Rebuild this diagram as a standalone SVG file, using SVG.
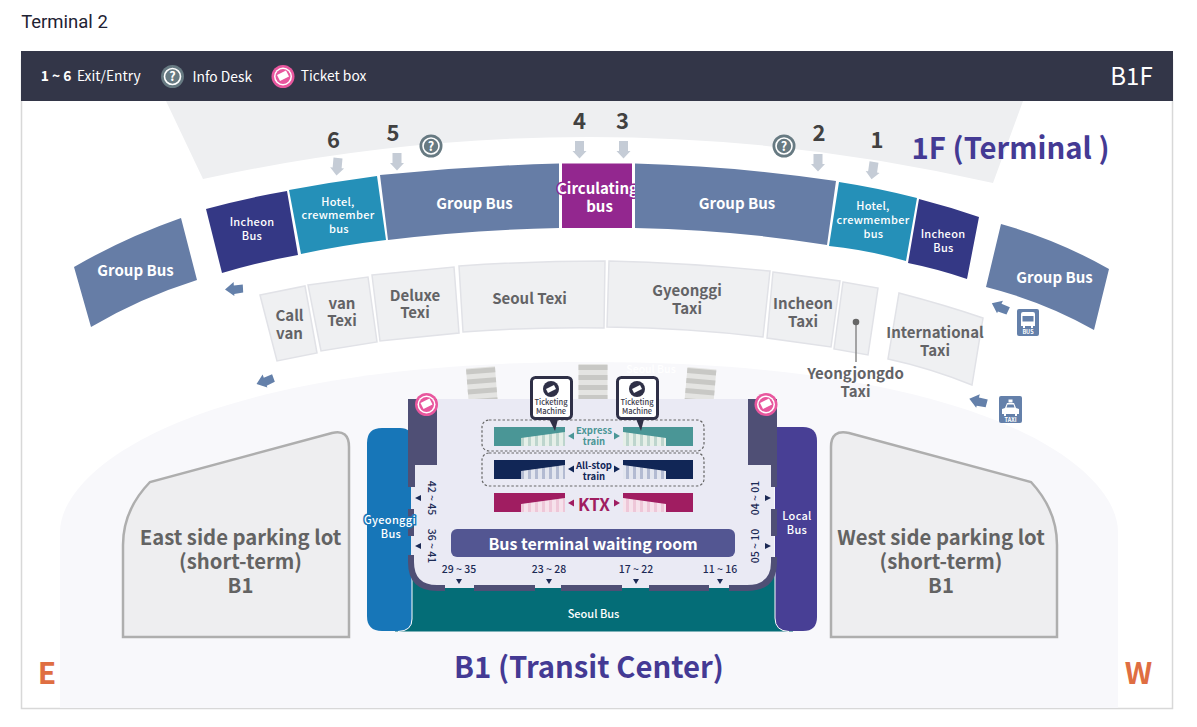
<svg xmlns="http://www.w3.org/2000/svg" width="1197" height="727" viewBox="0 0 1197 727">
<style>
text{font-family:"Noto Sans CJK KR","Noto Sans",sans-serif;text-anchor:middle}
.gb{fill:#667dA6}
.ib{fill:#343885}
.hb{fill:#2590b8}
.tx{fill:#eff0f2;stroke:#e1e2e7;stroke-width:1.5}
.w{fill:#fff;font-weight:500}
.s11{font-size:11px;letter-spacing:.3px}
.s14{font-size:15px;font-weight:700}
.t15{font-size:15px;font-weight:700;fill:#636366}
.num{font-size:22px;font-weight:700;fill:#414141}
.hd{font-size:29.300px;font-weight:700;fill:#443a94}
.park{font-size:20.300px;font-weight:700;fill:#636363}
.pk{fill:#eeeef0;stroke:#aeaeae;stroke-width:2.5}
.gate{font-size:10.5px;font-weight:500;fill:#1c2a55}
.navy{fill:#1c2a55}
.dk{fill:#4f4f75}
.dash{fill:none;stroke:#666;stroke-width:1.2;stroke-dasharray:2.5 2}
.leg{font-size:13.8px;fill:#fff}
.tm{font-size:7.5px;font-weight:500;fill:#3d3d4d}
.icl{font-size:5.5px;font-weight:700;fill:#fff}
.dstr{fill:none;stroke:#4f4f75;stroke-width:6}
</style>
<defs>
<polygon id="dn" points="-4.5,0 4.5,0 4.5,10 7,10 0,17.5 -7,10 -4.5,10" fill="#c5ccd6"/>
<polygon id="lf" points="-9,0 0,-7 0,-3.5 9,-4 9,4 0,5 0,7" fill="#6480aa"/>
<g id="info"><circle r="11.5" fill="#677a82"/><circle r="8" fill="none" stroke="#fff" stroke-width="1.6"/><text y="4.5" font-size="12.5" font-weight="700" fill="#fff">?</text></g>
<g id="tick"><circle r="11.5" fill="#e8579e"/><circle r="9" fill="#fff"/><circle r="7.5" fill="#e8579e"/><path d="M-6-1.5 3-6 6 0-3 4.5z" fill="#fff"/></g>
<g id="stairs"><rect width="29" height="36" fill="#e4e4e2"/><rect y="1" width="29" height="5" fill="#c8c8c5"/><rect y="11" width="29" height="5" fill="#c8c8c5"/><rect y="21" width="29" height="5" fill="#c8c8c5"/><rect y="31" width="29" height="5" fill="#c8c8c5"/></g>
<pattern id="pe" width="7" height="10" patternUnits="userSpaceOnUse" x="521"><rect width="7" height="10" fill="#bdd5cd"/><rect x="3" width="4" height="10" fill="#e6efe8"/></pattern>
<pattern id="pa" width="7" height="10" patternUnits="userSpaceOnUse" x="521"><rect width="7" height="10" fill="#b3bbd2"/><rect x="3" width="4" height="10" fill="#e3e6ef"/></pattern>
<pattern id="pk" width="7" height="10" patternUnits="userSpaceOnUse" x="521"><rect width="7" height="10" fill="#eec7d8"/><rect x="3" width="4" height="10" fill="#f6e2eb"/></pattern>
</defs>
<rect width="1197" height="727" fill="#fff"/>
<text x="64.500" y="28" style="font-family:Roboto,sans-serif;font-size:18.500px" fill="#1f2233">Terminal 2</text>
<rect x="21.500" y="60" width="1151" height="648.500" fill="#fff" stroke="#d8d8d8" stroke-width="1.500"/>
<path id="transit-bg" d="M60 708V532C60 470 190 362 590 362C990 362 1118 470 1118 532V708Z" fill="#f8f8fb"/>
<path id="terminal-bg" d="M166 101L203 179Q598 93 993 183L1023 101Z" fill="#eeeff1"/>
<g id="legend">
<rect x="21" y="51" width="1152" height="50" fill="#333648"/>
<text x="56" y="81" class="leg" font-weight="700">1 ~ 6</text>
<text x="108.800" y="81" class="leg">Exit/Entry</text>
<use href="#info" x="172.500" y="76.500"/>
<text x="222.300" y="82" class="leg">Info Desk</text>
<use href="#tick" x="283" y="76.500"/>
<text x="333.500" y="81" class="leg">Ticket box</text>
<text x="1131.500" y="85" font-size="24" fill="#fff">B1F</text>
</g>
<g id="bus-group-left"><path class="gb" d="M74 267Q124 238 181 218L197 280Q140 298 91 327Z"/><text class="w s14" x="135.500" y="276">Group Bus</text></g>
<g id="incheon-bus-left"><path class="ib" d="M206 209Q246 198 287 191L298 255Q258 262 222 273Z"/><text class="w s11" x="252" y="226">Incheon</text><text class="w s11" x="252" y="240">Bus</text></g>
<g id="hotel-left"><path class="hb" d="M289 190Q332 182 377 176L386 240Q343 245 301 254Z"/><text class="w s11" x="338" y="206">Hotel,</text><text class="w s11" x="338" y="219">crewmember</text><text class="w s11" x="339" y="233">bus</text></g>
<g id="group-bus-5"><path class="gb" d="M380 175Q470 166 559 163.500V228Q470 230 388 240Z"/><text class="w s14" x="474.500" y="209">Group Bus</text></g>
<g id="circulating-bus"><rect x="562" y="163.500" width="70" height="64.500" fill="#93278f"/><text class="w s14" x="597.500" y="194" style="paint-order:stroke;stroke:#93278f;stroke-width:3px">Circulating</text><text class="w s14" x="599.500" y="212">bus</text></g>
<g id="group-bus-2"><path class="gb" d="M635 163.500Q735 166 836 181L827 245Q735 230 635 228Z"/><text class="w s14" x="737" y="209">Group Bus</text></g>
<g id="hotel-right"><path class="hb" d="M839 182Q878 188 917 198L906 261Q868 250 829 246Z"/><text class="w s11" x="873" y="210">Hotel,</text><text class="w s11" x="873" y="224">crewmember</text><text class="w s11" x="873.500" y="238">bus</text></g>
<g id="incheon-bus-right"><path class="ib" d="M919 199Q950 207 979 217L967 279Q938 269 908 263Z"/><text class="w s11" x="943" y="238">Incheon</text><text class="w s11" x="943.500" y="252">Bus</text></g>
<g id="bus-group-right"><path class="gb" d="M1001 224Q1058 240 1109 269L1094 330Q1045 302 986 287Z"/><text class="w s14" x="1054.500" y="283">Group Bus</text></g>
<g id="call-van"><polygon class="tx" points="260,295 305,286 317,353 277,361"/><text class="t15" x="289.500" y="321">Call</text><text class="t15" x="289.500" y="339">van</text></g>
<g id="van-taxi"><polygon class="tx" points="308,285 368,277 377,342 321,351"/><text class="t15" x="342" y="309">van</text><text class="t15" x="342" y="326">Texi</text></g>
<g id="deluxe-taxi"><polygon class="tx" points="372,275 454,267 459,333 380,341"/><text class="t15" x="415" y="301">Deluxe</text><text class="t15" x="415" y="318">Texi</text></g>
<g id="seoul-taxi"><path class="tx" d="M459 266Q530 261 605 261L604 328Q530 327 463 332Z"/><text class="t15" x="529.500" y="304">Seoul Texi</text></g>
<g id="gyeonggi-taxi"><path class="tx" d="M609 261Q690 263 770 271L763 337Q690 328 607 327Z"/><text class="t15" x="687" y="296">Gyeonggi</text><text class="t15" x="687" y="314">Taxi</text></g>
<g id="incheon-taxi"><polygon class="tx" points="773,272 840,281 831,347 767,338"/><text class="t15" x="803" y="309">Incheon</text><text class="t15" x="803" y="327">Taxi</text></g>
<g id="yeongjongdo-taxi"><polygon class="tx" points="843,282 878,288 868,355 834,349"/><text class="t15" x="855.500" y="379">Yeongjongdo</text><text class="t15" x="855.500" y="397">Taxi</text></g>
<g id="international-taxi"><path class="tx" d="M899 293Q945 305 983 318L972 385Q930 368 888 359Z"/><text class="t15" x="935" y="338">International</text><text class="t15" x="935" y="356">Taxi</text></g>
<g id="floor-labels">
<text class="hd" x="1010.500" y="159">1F (Terminal )</text>
<text class="hd" x="589" y="678">B1 (Transit Center)</text>
<text x="47" y="684" font-size="30" font-weight="700" fill="#df6e42">E</text>
<text x="1138.500" y="684" font-size="30" font-weight="700" fill="#df6e42">W</text>
</g>
<g id="exit-numbers">
<text class="num" x="333.500" y="148">6</text><text class="num" x="393" y="141">5</text><text class="num" x="579.500" y="129">4</text><text class="num" x="622.500" y="129">3</text><text class="num" x="819" y="141">2</text><text class="num" x="877" y="148">1</text>
</g>
<use href="#info" x="431" y="146"/>
<use href="#info" x="784" y="146"/>
<g id="east-parking"><path class="pk" d="M123 637H349V447Q349 429 332 433L150 482Q123 510 123 545Z"/><text class="park" x="240.500" y="544.500">East side parking lot</text><text class="park" x="240.500" y="568.500">(short-term)</text><text class="park" x="240.500" y="592.500">B1</text></g>
<g id="west-parking"><path class="pk" d="M831 637H1057V545Q1057 510 1031 482L849 433Q831 429 831 447Z"/><text class="park" x="941" y="544.500">West side parking lot</text><text class="park" x="941" y="568.500">(short-term)</text><text class="park" x="941" y="592.500">B1</text></g>
<g id="stairs-set">
<use href="#stairs" transform="translate(466 368.500) rotate(-4.500)"/>
<use href="#stairs" transform="translate(578.500 364)"/>
<use href="#stairs" transform="translate(687.500 367) rotate(5)"/>
</g>
<text x="651" y="373" font-size="10.500" font-weight="500" fill="#fff">Seoul Bus</text>
<g id="seoul-bus"><rect x="395" y="575" width="398" height="56.500" fill="#046d77"/></g>
<g id="gyeonggi-bus"><path d="M382 428H400Q412 428 412 440V619Q412 631 400 631H382Q367 631 367 616V443Q367 428 382 428Z" fill="#1776b8"/><path d="M412 560V619Q412 631 398 631.500" fill="none" stroke="#fff" stroke-width="1"/></g>
<g id="local-bus"><path d="M775 427H803Q817 427 817 441V617Q817 631 803 631H788Q775 631 775 618Z" fill="#483f95"/><path d="M775 560V618Q775 631 789 631.500" fill="none" stroke="#fff" stroke-width="1"/></g>
<g id="concourse">
<rect x="411" y="399" width="363" height="189" rx="28" fill="#eaeaf4"/>
<rect x="411" y="399" width="363" height="60" fill="#eaeaf4"/>
<path class="dk" d="M408 399H437V465H415V487H408Z"/>
<path class="dk" d="M748 399H777V487H771V465H748Z"/>
<rect class="dk" x="408" y="509" width="6" height="27"/>
<rect class="dk" x="771" y="509" width="6" height="27"/>
<path class="dstr" d="M411 555V562Q411 588 437 588H445"/>
<path class="dstr" d="M729 588H747Q774 588 774 562V557"/>
<path class="dstr" d="M474 588H535M561 588H622M649 588H709"/>
</g>
<g id="bus-labels">
<text class="w" x="593.500" y="618" font-size="11" font-weight="700">Seoul Bus</text>
<text class="w s11" x="390" y="524" style="paint-order:stroke;stroke:#1776b8;stroke-width:3px">Gyeonggi</text><text class="w s11" x="391" y="538">Bus</text>
<text class="w s11" x="797" y="520">Local</text><text class="w s11" x="797" y="534">Bus</text>
</g>
<g id="express-train">
<rect x="482" y="420" width="222" height="31" rx="7" class="dash"/>
<rect x="494" y="427" width="71" height="19" fill="#4a9696"/><polygon points="521,438 565,432 565,446 521,446" fill="url(#pe)"/>
<rect x="623" y="427" width="70" height="19" fill="#4a9696"/><polygon points="623,432 666,438 666,446 623,446" fill="url(#pe)"/>
<polygon points="568,436 574,432.500 574,439.500" fill="#4a9696"/><polygon points="620,436 614,432.500 614,439.500" fill="#4a9696"/>
<text x="594" y="433.500" font-size="9.500" font-weight="700" fill="#4a9696">Express</text><text x="594" y="445" font-size="9.500" font-weight="700" fill="#4a9696">train</text>
</g>
<g id="all-stop-train">
<rect x="482" y="453" width="222" height="33" rx="7" class="dash"/>
<rect x="494" y="460" width="71" height="19" fill="#112656"/><polygon points="521,471 565,465 565,479 521,479" fill="url(#pa)"/>
<rect x="623" y="460" width="70" height="19" fill="#112656"/><polygon points="623,465 666,471 666,479 623,479" fill="url(#pa)"/>
<polygon points="568,469 574,465.500 574,472.500" fill="#112656"/><polygon points="620,469 614,465.500 614,472.500" fill="#112656"/>
<text x="594" y="469" font-size="9.500" font-weight="700" fill="#112656">All-stop</text><text x="594" y="480" font-size="9.500" font-weight="700" fill="#112656">train</text>
</g>
<g id="ktx">
<rect x="494" y="493" width="71" height="19" fill="#a01d61"/><polygon points="521,504 565,498 565,512 521,512" fill="url(#pk)"/>
<rect x="623" y="493" width="70" height="19" fill="#a01d61"/><polygon points="623,498 666,504 666,512 623,512" fill="url(#pk)"/>
<polygon points="568,503 574,499.500 574,506.500" fill="#a01d61"/><polygon points="620,503 614,499.500 614,506.500" fill="#a01d61"/>
<text x="594" y="510.500" font-size="17" font-weight="700" fill="#a01d61">KTX</text>
</g>
<g id="machine-left"><path d="M549 419L555 431L558 419Z" fill="#2f3047"/><rect x="531.500" y="377.500" width="40" height="41" rx="4" fill="#fff" stroke="#2f3047" stroke-width="3"/><circle cx="551" cy="389" r="8" fill="#2f3047"/><path d="M546 389L554 385L556 389L548 393Z" fill="#fff"/><text class="tm" x="551" y="405">Ticketing</text><text class="tm" x="551" y="414">Machine</text></g>
<g id="machine-right"><path d="M636 419L641 431L644 419Z" fill="#2f3047"/><rect x="617.500" y="377.500" width="40" height="41" rx="4" fill="#fff" stroke="#2f3047" stroke-width="3"/><circle cx="637" cy="389" r="8" fill="#2f3047"/><path d="M632 389L640 385L642 389L634 393Z" fill="#fff"/><text class="tm" x="637" y="405">Ticketing</text><text class="tm" x="637" y="414">Machine</text></g>
<use href="#tick" x="426.500" y="404.500"/>
<use href="#tick" x="766" y="404.500"/>
<g id="waiting-room"><rect x="451" y="529" width="284" height="28" rx="6" fill="#535692"/><text x="593" y="550" font-size="16" font-weight="700" fill="#fff">Bus terminal waiting room</text></g>
<g id="gates">
<text class="gate" x="459" y="573">29 ~ 35</text><text class="gate" x="549" y="573">23 ~ 28</text><text class="gate" x="636" y="573">17 ~ 22</text><text class="gate" x="720" y="573">11 ~ 16</text>
<polygon class="navy" points="456,579 462,579 459,584"/><polygon class="navy" points="546,579 552,579 549,584"/><polygon class="navy" points="633,579 639,579 636,584"/><polygon class="navy" points="717,579 723,579 720,584"/>
<text class="gate" transform="translate(428 498) rotate(90)">42 ~ 45</text><text class="gate" transform="translate(428 546) rotate(90)">36 ~ 41</text>
<text class="gate" transform="translate(759 498) rotate(-90)">04 ~ 01</text><text class="gate" transform="translate(759 546) rotate(-90)">05 ~ 10</text>
<polygon class="navy" points="415,498 421,495 421,501"/><polygon class="navy" points="415,546 421,543 421,549"/>
<polygon class="navy" points="771,498 765,495 765,501"/><polygon class="navy" points="771,546 765,543 765,549"/>
</g>
<g id="bus-sign"><rect x="1017" y="309" width="22" height="27" rx="2" fill="#6480aa"/><path d="M1023 312H1033Q1035 312 1035 314V326H1033V328H1031V326H1025V328H1023V326H1021V314Q1021 312 1023 312Z" fill="#fff"/><rect x="1022.500" y="316" width="11" height="5.500" fill="#6480aa"/><text class="icl" x="1028" y="334">BUS</text></g>
<g id="taxi-sign"><rect x="999" y="396" width="23" height="27" rx="2" fill="#6480aa"/><path d="M1002 414V409L1005 408L1007 403H1014L1016 408L1019 409V414H1017V416H1015V414H1006V416H1004V414Z" fill="#fff"/><rect x="1008.500" y="399.500" width="4" height="3" fill="#fff"/><path d="M1007.500 404.500H1013.500L1014.500 407.500H1006.500Z" fill="#6480aa"/><text class="icl" x="1010.500" y="421.500">TAXI</text></g>
<g id="connectors">
<use href="#dn" transform="translate(338 158) rotate(5)"/>
<use href="#dn" x="397" y="153"/>
<use href="#dn" x="579.500" y="141"/>
<use href="#dn" x="623.500" y="141"/>
<use href="#dn" x="818" y="154"/>
<use href="#dn" transform="translate(874 162) rotate(8)"/>
<use href="#lf" transform="translate(1000 307) rotate(25)"/>
<use href="#lf" transform="translate(978 401) rotate(15)"/>
<use href="#lf" transform="translate(234 289) rotate(-3)"/>
<use href="#lf" transform="translate(265 381) rotate(-20)"/>
<line x1="856" y1="322" x2="856" y2="362" stroke="#8a8a8a" stroke-width="1.500"/><circle cx="856" cy="322" r="3.300" fill="#666"/>
</g>
</svg>
